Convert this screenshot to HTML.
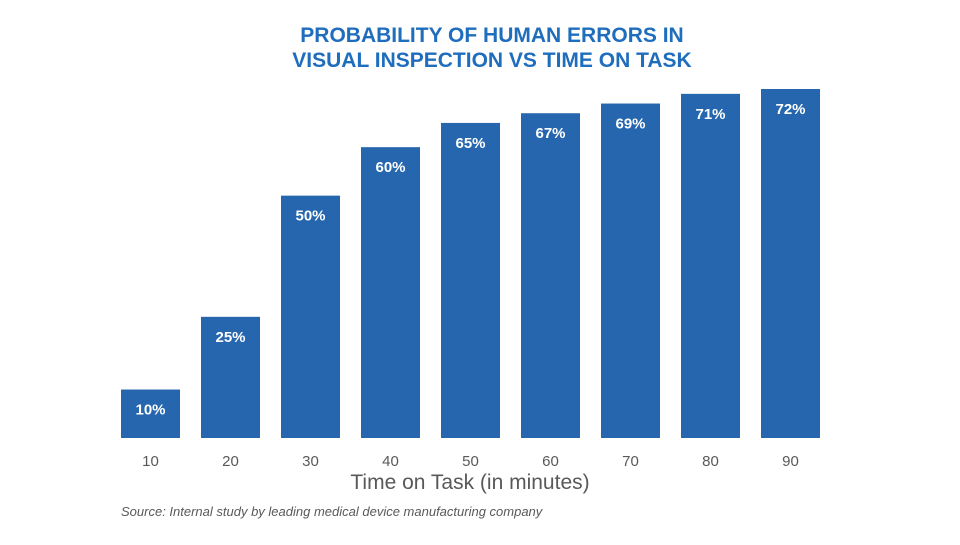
<!DOCTYPE html>
<html><head><meta charset="utf-8"><style>
body{margin:0;background:#fff;width:960px;height:540px;overflow:hidden;font-family:"Liberation Sans",sans-serif}
</style></head><body>
<svg width="960" height="540" id="chart">
<text x="492" y="42" text-anchor="middle" font-size="21" font-weight="bold" fill="#1f6dbd">PROBABILITY OF HUMAN ERRORS IN</text>
<text x="492" y="67" text-anchor="middle" font-size="21" font-weight="bold" fill="#1f6dbd">VISUAL INSPECTION VS TIME ON TASK</text>
<g id="bars"></g>
<text x="470" y="489" text-anchor="middle" font-size="21" fill="#595959">Time on Task (in minutes)</text>
<text x="121" y="516" font-size="13" font-style="italic" fill="#595959">Source: Internal study by leading medical device manufacturing company</text>
</svg>
<script>
const categories=["10","20","30","40","50","60","70","80","90"];
const values=[10,25,50,60,65,67,69,71,72];
const ns="http://www.w3.org/2000/svg";
const baseY=438, pxPer=349/72;
function xCenter(i){return 150.5+i*80;}
function yScale(v){return baseY-v*pxPer;}
const g=document.getElementById("bars");
values.forEach((v,i)=>{
  const r=document.createElementNS(ns,"rect");
  
  
  r.setAttribute("x",xCenter(i)-29.5);r.setAttribute("width",59);
  r.setAttribute("y",yScale(v));r.setAttribute("height",baseY-yScale(v));
  r.setAttribute("fill","#2566ae");g.appendChild(r);
  const t=document.createElementNS(ns,"text");
  
  
  t.setAttribute("x",xCenter(i));t.setAttribute("y",yScale(v)+25);
  t.setAttribute("text-anchor","middle");t.setAttribute("font-size","15");
  t.setAttribute("font-weight","bold");t.setAttribute("fill","#fff");
  t.textContent=v+"%";g.appendChild(t);
  const c=document.createElementNS(ns,"text");
  
  
  c.setAttribute("x",xCenter(i));c.setAttribute("y",466);
  c.setAttribute("text-anchor","middle");c.setAttribute("font-size","15");
  c.setAttribute("fill","#595959");c.textContent=categories[i];g.appendChild(c);
});
</script>
</body></html>
